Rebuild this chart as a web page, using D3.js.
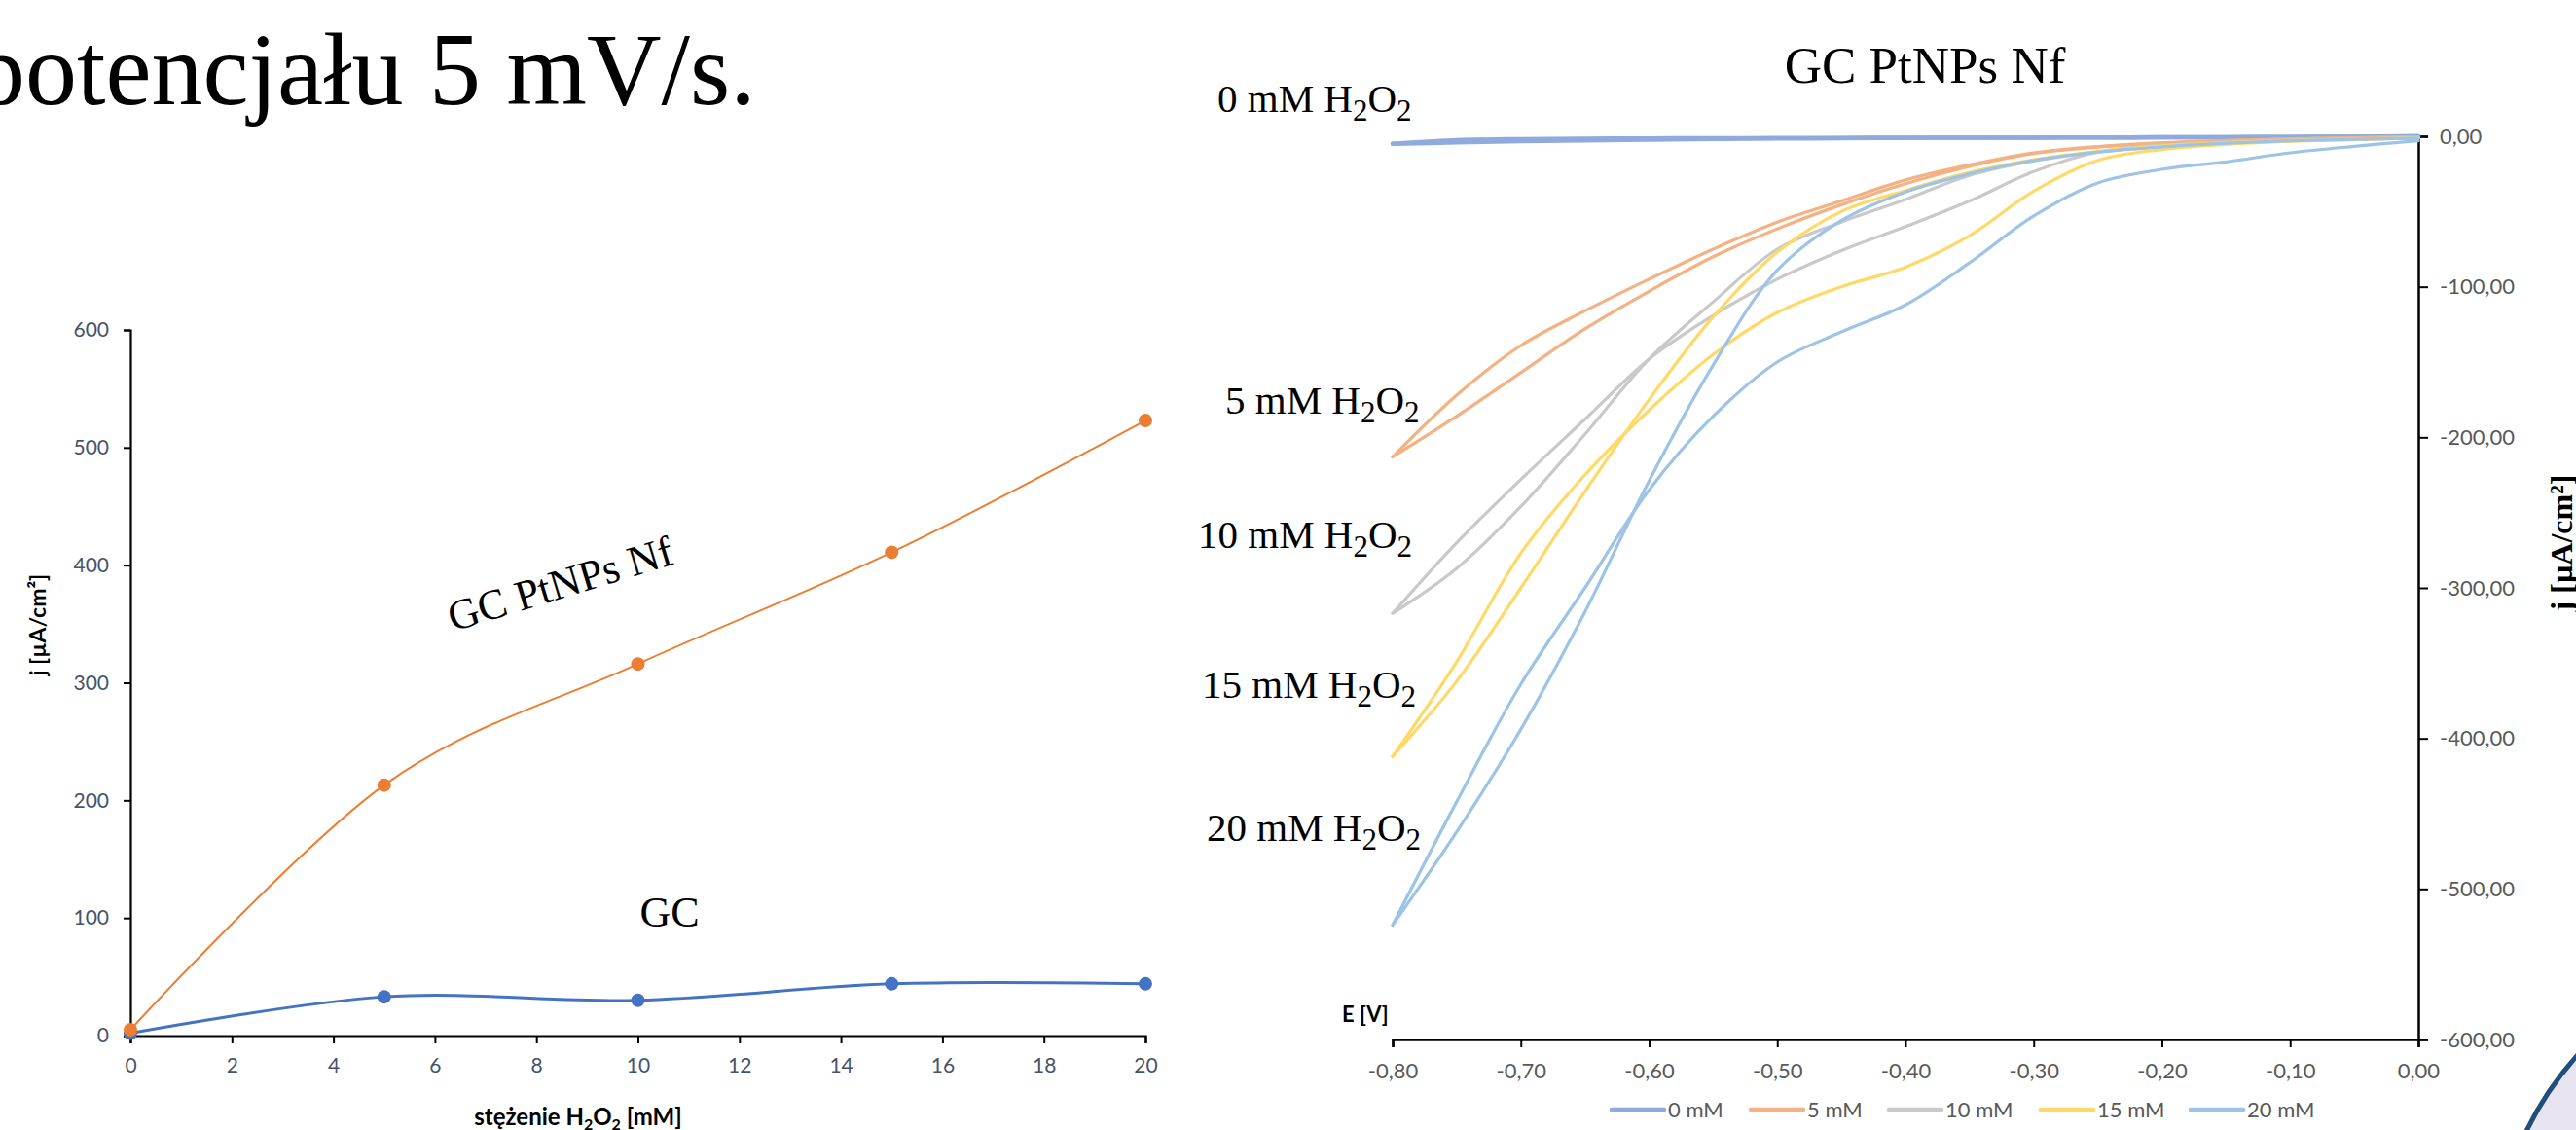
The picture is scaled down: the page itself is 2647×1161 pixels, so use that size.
<!DOCTYPE html>
<html><head><meta charset="utf-8">
<script src="https://cdn.jsdelivr.net/npm/d3@7"></script>
<style>
html,body{margin:0;padding:0;background:#fff;overflow:hidden}
svg{display:block}
</style></head><body>
<svg id="chart" width="2647" height="1161"></svg>
<script>
// ================= DATA =================
// Left chart: j vs H2O2 concentration
const concentrations = [0, 5, 10, 15, 20];
const jGCPtNPsNf     = [5, 213, 316, 411, 523];
const jGC            = [2, 33, 30, 44, 44];
const leftXTicks = [0, 2, 4, 6, 8, 10, 12, 14, 16, 18, 20];
const leftYTicks = [0, 100, 200, 300, 400, 500, 600];

// Right chart: cyclic voltammograms, GC PtNPs Nf
const potentials = [0, -0.05, -0.10, -0.15, -0.20, -0.25, -0.30, -0.35, -0.40, -0.45, -0.50, -0.55, -0.60, -0.65, -0.70, -0.75, -0.80];
const j0mM_a  = [0, -0.3, -0.5, -0.6, -0.7, -0.8, -0.9, -1.0, -1.1, -1.3, -1.5, -1.8, -2.2, -2.7, -3.3, -4.1, -5.0];
const j0mM_b  = [0, -0.3, -0.5, -0.6, -0.7, -0.8, -0.9, -1.0, -1.0, -1.1, -1.2, -1.3, -1.4, -1.6, -1.9, -2.6, -5.0];
const j5mM_a  = [-0.5, -1.0, -1.8, -3.0, -4.6, -7.2, -11.5, -20, -31.5, -45.5, -61.5, -80, -103, -128, -157, -186, -213];
const j5mM_b  = [-0.5, -1.0, -1.7, -2.8, -4.3, -6.8, -11, -19, -29, -43, -57, -75, -95, -116, -139, -172, -213];
const j10mM_a = [-1.2, -2.0, -2.6, -4.0, -6.0, -10.5, -23.5, -43, -60, -76, -95, -119, -148, -188, -228, -270, -317];
const j10mM_b = [-1.2, -2.0, -3.0, -4.5, -6.8, -10.5, -16.5, -26, -42, -57, -75, -110, -148, -198, -246, -287, -317];
const j15mM_a = [-1.0, -2.3, -3.4, -5.5, -8.8, -16, -36.5, -66, -87, -100, -117, -145, -182, -225, -277, -349, -412];
const j15mM_b = [-1.0, -1.8, -2.8, -4.3, -6.5, -10, -15.5, -24, -36, -50, -77, -120, -175, -236, -300, -362, -412];
const j20mM_a = [-3, -6.7, -11, -17, -22, -31, -53, -84, -112, -130, -150, -186, -235, -300, -364, -442, -524];
const j20mM_b = [-1.2, -2.0, -3.0, -4.6, -7.0, -10.5, -16, -25, -37, -56, -89, -152, -229, -316, -394, -462, -524];
const cvSeriesNames = ["0 mM", "5 mM", "10 mM", "15 mM", "20 mM"];
const cvLabels = ["0", "5", "10", "15", "20"];
const rightXTicks = [-0.8, -0.7, -0.6, -0.5, -0.4, -0.3, -0.2, -0.1, 0];
const rightYTicks = [0, -100, -200, -300, -400, -500, -600];

// ================= DRAWING =================
const svg = d3.select("#chart");
const SERIF = "'Liberation Serif','Times New Roman',serif";
const SANS = "Lato,'Open Sans',sans-serif";
const fmtComma = v => (Math.abs(v) < 1e-9 ? 0 : v).toFixed(2).replace(".", ",");

// Decoration (slide corner)
svg.append("circle").attr("cx", 2900).attr("cy", 1310).attr("r", 338)
  .attr("fill", "#e7e4ef").attr("stroke", "#1f4e79").attr("stroke-width", 5);

// Slide heading fragment
svg.append("text").attr("x", -27).attr("y", 107)
  .attr("font-family", SERIF).attr("font-size", 106).attr("fill", "#000")
  .text("potencjału 5 mV/s.");

// ---------- Left chart ----------
const xL = d3.scaleLinear().domain([0, 20]).range([134, 1177]);
const yL = d3.scaleLinear().domain([0, 600]).range([1064, 339]);

const gxL = svg.append("g").attr("transform", "translate(0,1064)")
  .call(d3.axisBottom(xL).tickValues(leftXTicks).tickSize(8).tickPadding(15).tickFormat(d3.format("d")));
const gyL = svg.append("g").attr("transform", "translate(134,0)")
  .call(d3.axisLeft(yL).tickValues(leftYTicks).tickSize(7).tickPadding(15).tickFormat(d3.format("d")));
[gxL, gyL].forEach(g => {
  g.select(".domain").attr("stroke", "#000").attr("stroke-width", 2.2);
  g.selectAll(".tick line").attr("stroke", "#000").attr("stroke-width", 2);
  g.selectAll(".tick text").attr("font-family", SANS).attr("font-size", 21).attr("fill", "#44546A");
});

const lineL = d3.line().curve(d3.curveCatmullRom.alpha(0)).x((d, i) => xL(concentrations[i])).y(d => yL(d));
svg.append("path").datum(jGC).attr("d", lineL).attr("fill", "none").attr("stroke", "#4472C4").attr("stroke-width", 3);
svg.append("path").datum(jGCPtNPsNf).attr("d", lineL).attr("fill", "none").attr("stroke", "#ED7D31").attr("stroke-width", 2);
svg.append("g").selectAll("circle").data(jGC).join("circle")
  .attr("cx", (d, i) => xL(concentrations[i])).attr("cy", d => yL(d)).attr("r", 7).attr("fill", "#4472C4");
svg.append("g").selectAll("circle").data(jGCPtNPsNf).join("circle")
  .attr("cx", (d, i) => xL(concentrations[i])).attr("cy", d => yL(d)).attr("r", 7).attr("fill", "#ED7D31");

// axis titles
const xt = svg.append("text").attr("x", 594).attr("y", 1156).attr("text-anchor", "middle")
  .attr("font-family", SANS).attr("font-weight", "bold").attr("font-size", 24).attr("fill", "#000");
xt.append("tspan").text("stężenie H");
xt.append("tspan").attr("font-size", 16).attr("dy", 5).text("2");
xt.append("tspan").attr("dy", -5).text("O");
xt.append("tspan").attr("font-size", 16).attr("dy", 5).text("2");
xt.append("tspan").attr("dy", -5).text(" [mM]");
svg.append("text").attr("transform", "translate(47,642) rotate(-90)").attr("text-anchor", "middle")
  .attr("font-family", SANS).attr("font-weight", "bold").attr("font-size", 23).attr("fill", "#000")
  .text("j [µA/cm²]");

// series labels
svg.append("text").attr("transform", "translate(580,614) rotate(-17)").attr("text-anchor", "middle")
  .attr("font-family", SERIF).attr("font-size", 44).attr("fill", "#000").text("GC PtNPs Nf");
svg.append("text").attr("x", 688).attr("y", 952).attr("text-anchor", "middle")
  .attr("font-family", SERIF).attr("font-size", 44).attr("fill", "#000").text("GC");

// ---------- Right chart ----------
const xR = d3.scaleLinear().domain([-0.8, 0]).range([1431, 2485]);
const yR = d3.scaleLinear().domain([-600, 0]).range([1068, 140]);

const gxR = svg.append("g").attr("transform", "translate(0,1068)")
  .call(d3.axisBottom(xR).tickValues(rightXTicks).tickSize(8).tickPadding(16).tickFormat(fmtComma));
const gyR = svg.append("g").attr("transform", "translate(2485,0)")
  .call(d3.axisRight(yR).tickValues(rightYTicks).tickSize(10).tickPadding(12).tickFormat(fmtComma));
[gxR, gyR].forEach(g => {
  g.select(".domain").attr("stroke", "#000").attr("stroke-width", 2.5);
  g.selectAll(".tick line").attr("stroke", "#000").attr("stroke-width", 2);
  g.selectAll(".tick text").attr("font-family", SANS).attr("font-size", 22).attr("fill", "#595959");
});

const cvColors = ["#8FAADC", "#F4B183", "#C9C9C9", "#FFD966", "#9DC3E6"];
const cvData = [[j0mM_a, j0mM_b], [j5mM_a, j5mM_b], [j10mM_a, j10mM_b], [j15mM_a, j15mM_b], [j20mM_a, j20mM_b]];
const lineR = d3.line().curve(d3.curveCatmullRom.alpha(0.5)).x((d, i) => xR(potentials[i])).y(d => yR(d));
cvData.forEach((branches, s) => {
  branches.forEach(arr => {
    svg.append("path").datum(arr).attr("d", lineR).attr("fill", "none")
      .attr("stroke", cvColors[s]).attr("stroke-width", s === 0 ? 4.5 : 3.2)
      .attr("stroke-linejoin", "round").attr("stroke-linecap", "round");
  });
});

// title
svg.append("text").attr("x", 1978).attr("y", 85).attr("text-anchor", "middle")
  .attr("font-family", SERIF).attr("font-size", 53).attr("fill", "#000").text("GC PtNPs Nf");

// concentration labels
const labelPos = [[1251, 115], [1259, 425], [1231, 563], [1235, 717], [1240, 864]];
cvLabels.forEach((c, i) => {
  const t = svg.append("text").attr("x", labelPos[i][0]).attr("y", labelPos[i][1])
    .attr("font-family", SERIF).attr("font-size", 41).attr("fill", "#000");
  t.append("tspan").text(c + " mM H");
  t.append("tspan").attr("font-size", 31).attr("dy", 9).text("2");
  t.append("tspan").attr("dy", -9).text("O");
  t.append("tspan").attr("font-size", 31).attr("dy", 9).text("2");
});

// axis titles
svg.append("text").attr("x", 1379).attr("y", 1050)
  .attr("font-family", SANS).attr("font-weight", "bold").attr("font-size", 22).attr("fill", "#000").text("E [V]");
svg.append("text").attr("transform", "translate(2643,558) rotate(-90)").attr("text-anchor", "middle")
  .attr("font-family", SERIF).attr("font-weight", "bold").attr("font-size", 32).attr("fill", "#000")
  .text("j [µA/cm²]");

// legend
const legX = [1656, 1799, 1941, 2097, 2251];
const leg = svg.append("g").selectAll("g").data(cvSeriesNames).join("g")
  .attr("transform", (d, i) => `translate(${legX[i]},1140)`);
leg.append("line").attr("x1", 0).attr("x2", 54).attr("y1", 0).attr("y2", 0)
  .attr("stroke", (d, i) => cvColors[i]).attr("stroke-width", 4.5).attr("stroke-linecap", "round");
leg.append("text").attr("x", 58).attr("y", 8).attr("font-family", SANS).attr("font-size", 22)
  .attr("fill", "#595959").text(d => d);
</script>
</body></html>
